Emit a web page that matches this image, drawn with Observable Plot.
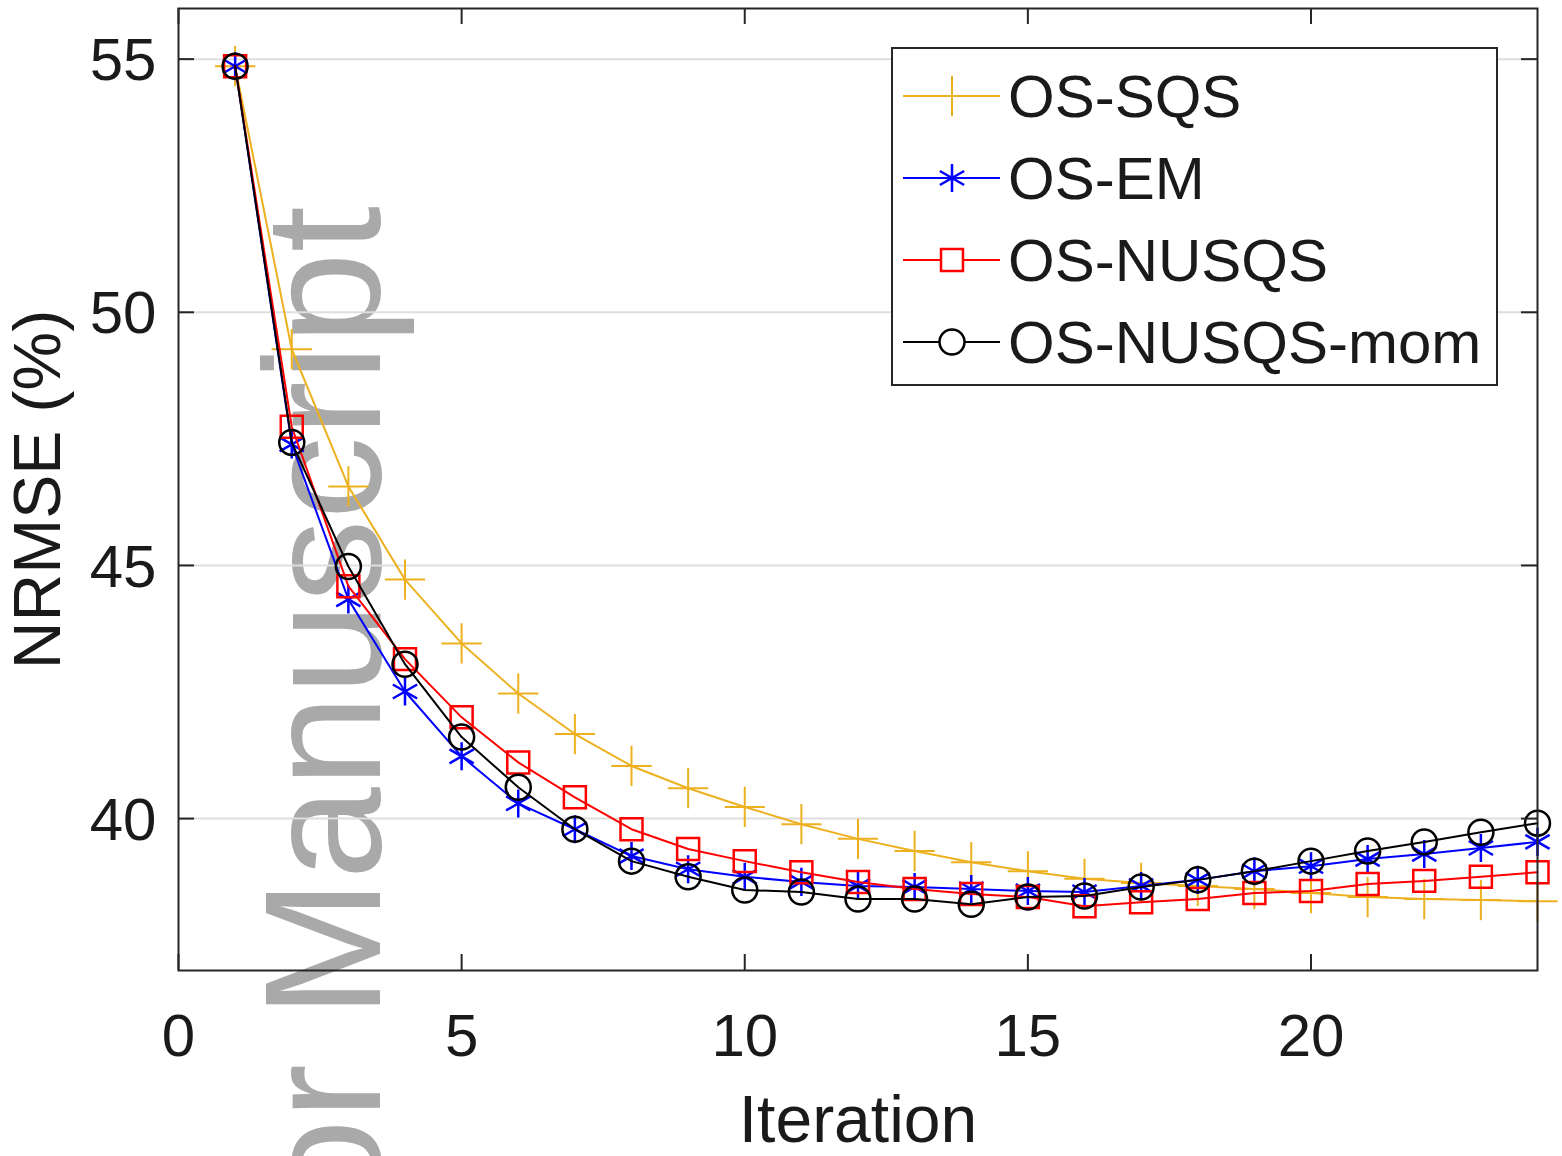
<!DOCTYPE html>
<html>
<head>
<meta charset="utf-8">
<script src="https://cdn.jsdelivr.net/npm/d3@7"></script>
<script src="https://cdn.jsdelivr.net/npm/@observablehq/plot@0.6"></script>
<style>
  html, body { margin: 0; padding: 0; background: white; }
  #chart { width: 1562px; height: 1156px; }
</style>
</head>
<body>
<div id="chart"></div>
<script>
// ---- data ----
const iterations = [1,2,3,4,5,6,7,8,9,10,11,12,13,14,15,16,17,18,19,20,21,22,23,24];
const seriesNames = ["OS-SQS", "OS-EM", "OS-NUSQS", "OS-NUSQS-mom"];
const osSQS = [54.86, 49.27, 46.56, 44.72, 43.46, 42.47, 41.67, 41.04, 40.60, 40.23, 39.89, 39.60, 39.36, 39.14, 38.96, 38.81, 38.73, 38.67, 38.61, 38.53, 38.45, 38.41, 38.39, 38.37];
const osEM = [54.86, 47.39, 44.33, 42.51, 41.23, 40.30, 39.79, 39.26, 39.00, 38.85, 38.75, 38.67, 38.65, 38.61, 38.57, 38.55, 38.67, 38.79, 38.96, 39.06, 39.20, 39.30, 39.42, 39.54];
const osNUSQS = [54.86, 47.74, 44.59, 43.15, 42.00, 41.11, 40.42, 39.79, 39.40, 39.16, 38.94, 38.75, 38.61, 38.51, 38.45, 38.27, 38.35, 38.41, 38.53, 38.57, 38.71, 38.77, 38.85, 38.94];
const osNUSQSmom = [54.86, 47.43, 44.98, 43.05, 41.61, 40.62, 39.79, 39.16, 38.85, 38.59, 38.55, 38.41, 38.41, 38.31, 38.45, 38.47, 38.65, 38.79, 38.96, 39.16, 39.36, 39.54, 39.73, 39.91];
const xTicks = [0, 5, 10, 15, 20];
const yTicks = [40, 45, 50, 55];
const xLabel = "Iteration";
const yLabel = "NRMSE (%)";
const watermark = "Author Manuscript";

// ---- styles ----
const colors = ["#EDB120", "#0000FF", "#FF0000", "#000000"];
const symbols = ["plus", "asterisk", "square", "circle"];
const radii = [13, 13.3, 12.4, 12.5];
const markerStroke = [2, 2.5, 2.5, 2.5];
const seriesValues = [osSQS, osEM, osNUSQS, osNUSQSmom];

const W = 1562, H = 1156;
const mL = 178, mR = 25, mT = 8, mB = 186;
const plotW = W - mL - mR, plotH = H - mT - mB;
const axisColor = "#262626";
const textColor = "#1a1a1a";
const font = "'Liberation Sans', Arial, Helvetica, sans-serif";

const seriesMarks = [];
seriesNames.forEach((name, s) => {
  const rows = iterations.map((it, i) => ({iteration: it, value: seriesValues[s][i], series: name}));
  seriesMarks.push(Plot.line(rows, {x: "iteration", y: "value", stroke: colors[s], strokeWidth: 2}));
  seriesMarks.push(Plot.dot(rows, {x: "iteration", y: "value", stroke: colors[s], symbol: symbols[s], r: radii[s], strokeWidth: markerStroke[s], fill: "none"}));
});

const chart = Plot.plot({
  width: W, height: H,
  marginLeft: mL, marginRight: mR, marginTop: mT, marginBottom: mB,
  x: {domain: [0, 24]},
  y: {domain: [37, 56]},
  style: {fontFamily: font, background: "white", color: textColor},
  marks: [
    Plot.gridY(yTicks, {stroke: "#dedede", strokeOpacity: 1, strokeWidth: 2}),
    ...seriesMarks,
    Plot.frame({stroke: axisColor, strokeWidth: 2}),
    Plot.tickX(xTicks, {x: d => d, insetTop: plotH - 16, stroke: axisColor, strokeWidth: 2}),
    Plot.tickX(xTicks, {x: d => d, insetBottom: plotH - 16, stroke: axisColor, strokeWidth: 2}),
    Plot.tickY(yTicks, {y: d => d, insetRight: plotW - 16, stroke: axisColor, strokeWidth: 2}),
    Plot.tickY(yTicks, {y: d => d, insetLeft: plotW - 16, stroke: axisColor, strokeWidth: 2}),
    Plot.axisX(xTicks, {tickSize: 0, tickPadding: 43, fontSize: 60, label: null, fill: textColor, tickFormat: d => String(d)}),
    Plot.axisY(yTicks, {tickSize: 0, tickPadding: 22, fontSize: 60, label: null, fill: textColor, tickFormat: d => String(d), dy: 2}),
    Plot.text([xLabel], {text: d => d, frameAnchor: "bottom", dy: 150, fontSize: 66, lineAnchor: "middle", textAnchor: "middle", fill: textColor}),
    Plot.text([yLabel], {text: d => d, frameAnchor: "left", dx: -140, rotate: -90, fontSize: 66, lineAnchor: "middle", textAnchor: "middle", fill: textColor})
  ]
});

document.getElementById("chart").appendChild(chart);

// ---- watermark (under everything) ----
const svg = d3.select(chart);
svg.insert("text", ":first-child")
  .attr("transform", "translate(380,206) rotate(-90)")
  .attr("text-anchor", "end")
  .attr("font-family", font)
  .attr("font-size", 166)
  .attr("fill", "#a9a9a9")
  .text(watermark);

// ---- legend (inside plot, top right) ----
const lg = svg.append("g").attr("font-family", font).attr("text-anchor", "start");
const boxX = 892, boxY = 48, boxW = 605, boxH = 337;
lg.append("rect").attr("x", boxX).attr("y", boxY).attr("width", boxW).attr("height", boxH)
  .attr("fill", "white").attr("stroke", axisColor).attr("stroke-width", 2);
const rowY0 = 96, rowStep = 82;
seriesNames.forEach((name, s) => {
  const cy = rowY0 + s * rowStep;
  lg.append("line").attr("x1", 903).attr("x2", 1000).attr("y1", cy).attr("y2", cy)
    .attr("stroke", colors[s]).attr("stroke-width", 2);
  const symType = {plus: d3.symbolPlus, asterisk: d3.symbolAsterisk, square: d3.symbolSquare, circle: d3.symbolCircle}[symbols[s]];
  lg.append("path").attr("d", d3.symbol(symType, radii[s] * radii[s] * Math.PI)())
    .attr("transform", `translate(952,${cy})`)
    .attr("fill", symbols[s] === "square" || symbols[s] === "circle" ? "white" : "none")
    .attr("stroke", colors[s]).attr("stroke-width", markerStroke[s]);
  lg.append("text").attr("x", 1008).attr("y", cy).attr("dy", "0.35em")
    .attr("text-anchor", "start")
    .attr("font-size", 60).attr("fill", textColor).text(name);
});
</script>
</body>
</html>
